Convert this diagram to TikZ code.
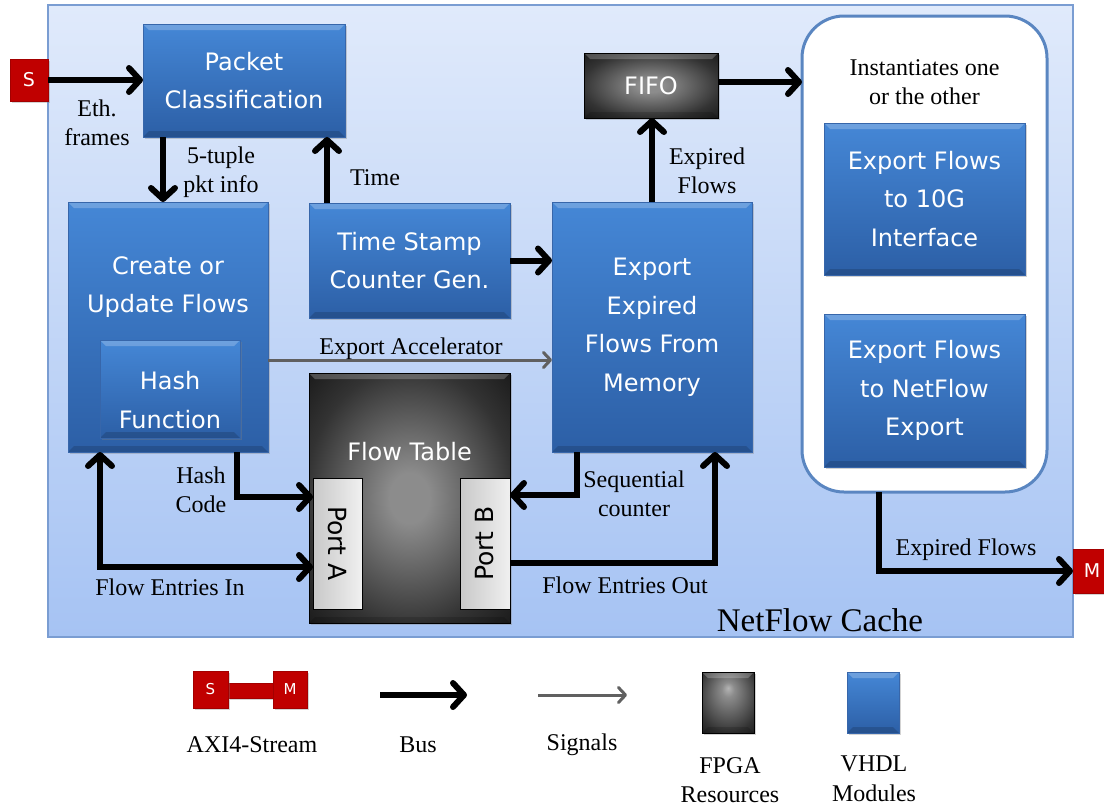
\documentclass[tikz,border=0pt]{standalone}
\usepackage{fontspec}
\setmainfont{Liberation Serif}
\newfontfamily\boxfont{DejaVu Sans}
\usetikzlibrary{arrows.meta,shadows,calc}
\definecolor{modtop}{HTML}{4587D6}
\definecolor{modbot}{HTML}{2C5FA6}
\definecolor{modedge}{HTML}{3766AA}
\definecolor{cachetop}{HTML}{E0EAFB}
\definecolor{cachebot}{HTML}{A6C3F3}
\definecolor{cacheedge}{HTML}{7A9DD2}
\definecolor{axired}{HTML}{C00000}
\definecolor{roundedge}{HTML}{5A86C1}
\definecolor{sigcol}{HTML}{606060}
\definecolor{ftin}{HTML}{8C8C8C}
\definecolor{ftmid}{HTML}{333333}
\definecolor{ftout}{HTML}{1A1A1A}
\definecolor{ftlight}{HTML}{B4B4B4}
\definecolor{portl}{HTML}{C8C8C8}
\definecolor{portr}{HTML}{F0F0F0}
\pgfdeclareradialshading{darkshade}{\pgfpoint{0bp}{0bp}}{color(0bp)=(ftin); color(5bp)=(ftin); color(26bp)=(ftmid); color(36bp)=(ftout); color(50bp)=(ftout)}
\pgfdeclareradialshading{darkshadetop}{\pgfpoint{0bp}{12bp}}{color(0bp)=(ftlight); color(6bp)=(ftin); color(30bp)=(ftmid); color(40bp)=(ftout); color(50bp)=(ftout)}
\begin{document}
\begin{tikzpicture}[x=1pt,y=-1pt,
  bevel/.style={path picture={
    \fill[white,opacity=0.22] (path picture bounding box.north west) -- (path picture bounding box.north east)
      -- ([xshift=-6pt,yshift=-6pt]path picture bounding box.north east) -- ([xshift=6pt,yshift=-6pt]path picture bounding box.north west) -- cycle;
    \fill[black,opacity=0.15] (path picture bounding box.south west) -- (path picture bounding box.south east)
      -- ([xshift=-6pt,yshift=6pt]path picture bounding box.south east) -- ([xshift=6pt,yshift=6pt]path picture bounding box.south west) -- cycle;
  }},
  shade/.style={drop shadow={shadow xshift=1.5pt,shadow yshift=-2pt,opacity=0.35}},
  module/.style={draw=modedge, line width=0.6pt, top color=modtop, bottom color=modbot, bevel, shade,
    inner sep=0pt, outer sep=0pt, text=white, align=center, font=\boxfont\fontsize{24}{38.5}\selectfont},
  modtext/.style={text=white, align=center, font=\boxfont\fontsize{24}{38.5}\selectfont},
  darkbox/.style={draw=black, line width=0.6pt, shading=darkshade, bevel, shade, inner sep=0pt, outer sep=0pt,
    text=white, font=\boxfont\fontsize{24}{30}\selectfont},
  portbox/.style={draw=black, line width=0.8pt, left color=portl, right color=portr, inner sep=0pt, outer sep=0pt},
  porttext/.style={font=\boxfont\fontsize{25}{30}\selectfont},
  redbox/.style={fill=axired, draw=axired!85!black, line width=0.5pt, shade, inner sep=0pt, outer sep=0pt, text=white},
  lbl/.style={font=\fontsize{24}{29.5}\selectfont, align=center, inner sep=0pt},
  bus/.style={line width=6pt, draw=black, -{Straight Barb[length=11pt,width=24pt,round]}},
  busboth/.style={line width=6pt, draw=black, {Straight Barb[length=11pt,width=24pt,round]}-{Straight Barb[length=11pt,width=24pt,round]}},
  signal/.style={line width=3pt, draw=sigcol, -{Straight Barb[length=7pt,width=15pt,round]}}
]
\useasboundingbox (0,0) rectangle (1104,809);

% container
\node[draw=cacheedge, line width=1.2pt, top color=cachetop, bottom color=cachebot, minimum width=1025pt, minimum height=632pt, inner sep=0pt, outer sep=0pt] (cache) at (560.5,321) {};
\node[font=\fontsize{33}{36}\selectfont, inner sep=0pt] (cachelbl) at (820,620) {NetFlow Cache};

% AXI ports
\node[redbox, minimum width=38pt, minimum height=42pt, font=\boxfont\fontsize{19}{19}\selectfont] (S) at (29,80) {S};
\node[redbox, minimum width=38pt, minimum height=44pt, font=\boxfont\fontsize{19}{19}\selectfont] (M) at (1092,571) {M};

% modules
\node[module, minimum width=202pt, minimum height=113pt] (pc) at (244,80.5) {Packet\\Classification};
\node[module, minimum width=200pt, minimum height=250pt] (cu) at (168,327) {};
\node[modtext] (cutext) at (168,287) {Create or\\Update Flows};
\node[module, minimum width=140pt, minimum height=98pt] (hf) at (170,389) {};
\node[modtext] (hftext) at (170,400) {Hash\\Function};
\node[module, minimum width=201pt, minimum height=115pt] (ts) at (409.5,260.5) {Time Stamp\\Counter Gen.};
\node[module, minimum width=200pt, minimum height=250pt] (ex) at (652,327) {Export\\Expired\\Flows From\\Memory};

% flow table
\node[darkbox, minimum width=201pt, minimum height=250pt] (ft) at (409.5,498) {};
\node[modtext, font=\boxfont\fontsize{24}{30}\selectfont] (fttext) at (409.5,452) {Flow Table};
\node[portbox, minimum width=49pt, minimum height=131pt] (pa) at (337.5,543.5) {};
\node[porttext, rotate=-90] (patext) at (pa) {Port A};
\node[portbox, minimum width=50pt, minimum height=131pt] (pb) at (485,543.5) {};
\node[porttext, rotate=90] (pbtext) at (pb) {Port B};

% FIFO
\node[darkbox, minimum width=134pt, minimum height=65pt] (fifo) at (651,85.5) {FIFO};

% instantiation box
\node[draw=roundedge, line width=3pt, fill=white, rounded corners=42pt, minimum width=245pt, minimum height=476pt, inner sep=0pt, outer sep=0pt] (rb) at (924.5,254) {};
\node[lbl] (rbtext) at (924.5,82) {Instantiates one\\or the other};
\node[module, minimum width=201pt, minimum height=152pt] (g10) at (924.5,199) {Export Flows\\to 10G\\Interface};
\node[module, minimum width=201pt, minimum height=153pt] (nfe) at (924.5,390.5) {Export Flows\\to NetFlow\\Export};

% connectors
\draw[bus] (S.east) -- (S.east -| pc.west);
\draw[bus] ([xshift=-81pt]pc.south) -- ([xshift=-81pt]pc.south |- cu.north);
\draw[bus] ([xshift=18pt]ts.north west) -- ([xshift=18pt]ts.north west |- pc.south);
\draw[bus] (ts.east) -- (ts.east -| ex.west);
\draw[signal] ([yshift=-33pt]cu.east) -- ([yshift=-33pt]cu.east -| ex.west);
\draw[bus] ([xshift=-31pt]cu.south east) |- ([yshift=-19pt]pa.north west);
\draw[busboth] ([xshift=32pt]cu.south west) |- ([yshift=42pt]pa.south west);
\draw[bus] ([xshift=25pt]ex.south west) |- ([yshift=-17pt]pb.north east);
\draw[bus] ([yshift=46pt]pb.south east) -| ([xshift=-37pt]ex.south east);
\draw[bus] (ex.north) -- (ex.north |- fifo.south);
\draw[bus] ([yshift=3.5pt]fifo.east) -- ([yshift=3.5pt]fifo.east -| rb.west);
\draw[bus] ([xshift=-45.5pt]rb.south) |- (M.west);

% labels
\node[lbl] (eth) at (97,123) {Eth.\\frames};
\node[lbl] (tuple) at (221,172) {5-tuple\\pkt info};
\node[lbl] (time) at (375,178) {Time};
\node[lbl] (acc) at (411,349) {Export Accelerator};
\node[lbl] (hash) at (201,490) {Hash\\Code};
\node[lbl] (fin) at (170,587) {Flow Entries In};
\node[lbl] (seq) at (634,494) {Sequential\\counter};
\node[lbl] (fout) at (625,585) {Flow Entries Out};
\node[lbl] (expf) at (707,171) {Expired\\Flows};
\node[lbl] (expf2) at (966,550) {Expired Flows};

% legend
\node[redbox, minimum width=45pt, minimum height=15pt] (lbar) at (250.5,690.5) {};
\node[redbox, minimum width=35pt, minimum height=37pt, font=\boxfont\fontsize{15}{15}\selectfont] (lS) at (210.5,689.5) {S};
\node[redbox, minimum width=34pt, minimum height=37pt, font=\boxfont\fontsize{15}{15}\selectfont] (lM) at (290,689.5) {M};
\node[lbl] (laxi) at (252,745) {AXI4-Stream};
\coordinate (lb1) at (380,695);
\coordinate (lb2) at (467,695);
\draw[bus] (lb1) -- (lb2);
\node[lbl] (lbus) at (418,745) {Bus};
\coordinate (ls1) at (538,695);
\coordinate (ls2) at (627,695);
\draw[signal] (ls1) -- (ls2);
\node[lbl] (lsig) at (582,745) {Signals};
\node[darkbox, shading=darkshadetop, minimum width=52pt, minimum height=61pt] (lfpga) at (728,702.5) {};
\node[lbl] (lfpgat) at (730,780) {FPGA\\Resources};
\node[module, minimum width=52pt, minimum height=61pt] (lvhdl) at (873,702.5) {};
\node[lbl] (lvhdlt) at (874,779) {VHDL\\Modules};
\end{tikzpicture}
\end{document}
